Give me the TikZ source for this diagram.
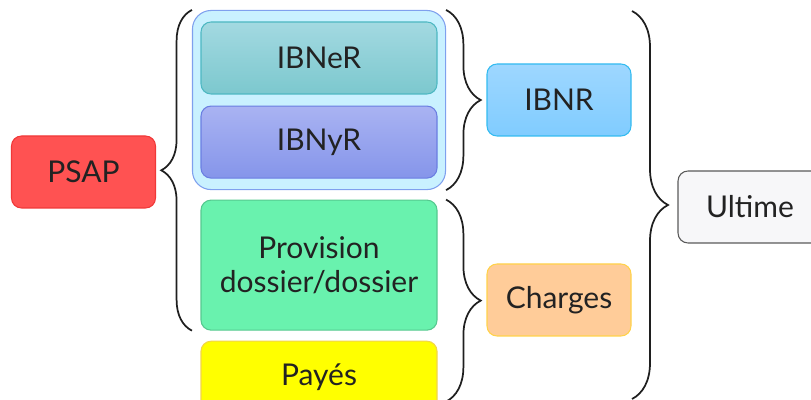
\documentclass[tikz,border=0pt]{standalone}
\usepackage{fontspec}
\setmainfont{Lato}
\usetikzlibrary{positioning,fit,backgrounds,calc,decorations.pathreplacing}
\definecolor{txtgray}{HTML}{222222}
\definecolor{bracegray}{HTML}{1F1F1F}
\definecolor{psapfill}{HTML}{FF5252}
\definecolor{psapline}{HTML}{F03838}
\definecolor{ibnertop}{HTML}{A3D9E1}
\definecolor{ibnerbot}{HTML}{7CC8CE}
\definecolor{ibnerline}{HTML}{4DB8C2}
\definecolor{ibnyrtop}{HTML}{A9B3F2}
\definecolor{ibnyrbot}{HTML}{8595EA}
\definecolor{ibnyrline}{HTML}{6A7EE2}
\definecolor{grpfill}{HTML}{C9F1FF}
\definecolor{grpline}{HTML}{7FA0EE}
\definecolor{provfill}{HTML}{69F2AE}
\definecolor{provline}{HTML}{55C98F}
\definecolor{payesfill}{HTML}{FFFF00}
\definecolor{payesline}{HTML}{F2D44A}
\definecolor{ibnrtop}{HTML}{9ED7FF}
\definecolor{ibnrbot}{HTML}{80CCFF}
\definecolor{ibnrline}{HTML}{33BBF0}
\definecolor{chgfill}{HTML}{FFCC99}
\definecolor{chgline}{HTML}{FFD24A}
\definecolor{ultfill}{HTML}{F7F7F9}
\definecolor{ultline}{HTML}{5A5A5A}
\tikzset{
    box/.style = {draw, rectangle, rounded corners=7.5pt, line width=0.8pt,
        minimum height=54pt, align=center, text=txtgray,
        font=\fontsize{22.5}{25}\selectfont},
    wide/.style = {box, minimum width=177pt},
    small/.style = {box, minimum width=108pt},
    bracket/.style = {draw=bracegray, line width=1.3pt, decorate,
        decoration={brace, amplitude=#1}}
}

\begin{document}
\begin{tikzpicture}[x=0.75pt, y=0.75pt, node distance=7.5pt]
    \useasboundingbox (0,0) rectangle (811,400);
    \clip (0,0) rectangle (811,400);
    % left column
    \node [small, fill=psapfill, draw=psapline] (psap) at (83.5,228) {PSAP};
    % middle column
    \node [wide, top color=ibnertop, bottom color=ibnerbot, draw=ibnerline] (ibner) at (319,342) {IBNeR};
    \node [wide, top color=ibnyrtop, bottom color=ibnyrbot, draw=ibnyrline, below=8.25pt of ibner] (ibnyr) {IBNyR};
    \begin{scope}[on background layer]
        \node [draw=grpline, fill=grpfill, line width=0.8pt, rounded corners=14pt,
            inner xsep=6pt, inner ysep=8.25pt, fit=(ibner)(ibnyr)] (grp) {};
    \end{scope}
    \node [wide, minimum height=97.5pt, fill=provfill, draw=provline, below=15.75pt of ibnyr] (prov) {Provision\\dossier/dossier};
    \node [wide, fill=payesfill, draw=payesline, below=7.5pt of prov] (payes) {Payés};
    % right columns
    \node [small, top color=ibnrtop, bottom color=ibnrbot, draw=ibnrline] (ibnr) at (559,300) {IBNR};
    \node [small, fill=chgfill, draw=chgline] (charges) at (559,100) {Charges};
    \node [small, fill=ultfill, draw=ultline] (ultime) at (750,193) {Ultime};
    % braces
    \coordinate (chgtop) at (grp.east |- prov.north);
    \coordinate (chgbot) at ($(chgtop)+(0,-202)$);
    \coordinate (ulttop) at (632,389);
    \coordinate (ultbot) at (632,1);
    \draw [bracket=23pt] (grp.west |- prov.south) -- (grp.north west);
    \draw [bracket=26pt] (grp.north east) -- (grp.south east);
    \draw [bracket=26pt] (chgtop) -- (chgbot);
    \draw [bracket=27pt] (ulttop) -- (ultbot);
\end{tikzpicture}
\end{document}
